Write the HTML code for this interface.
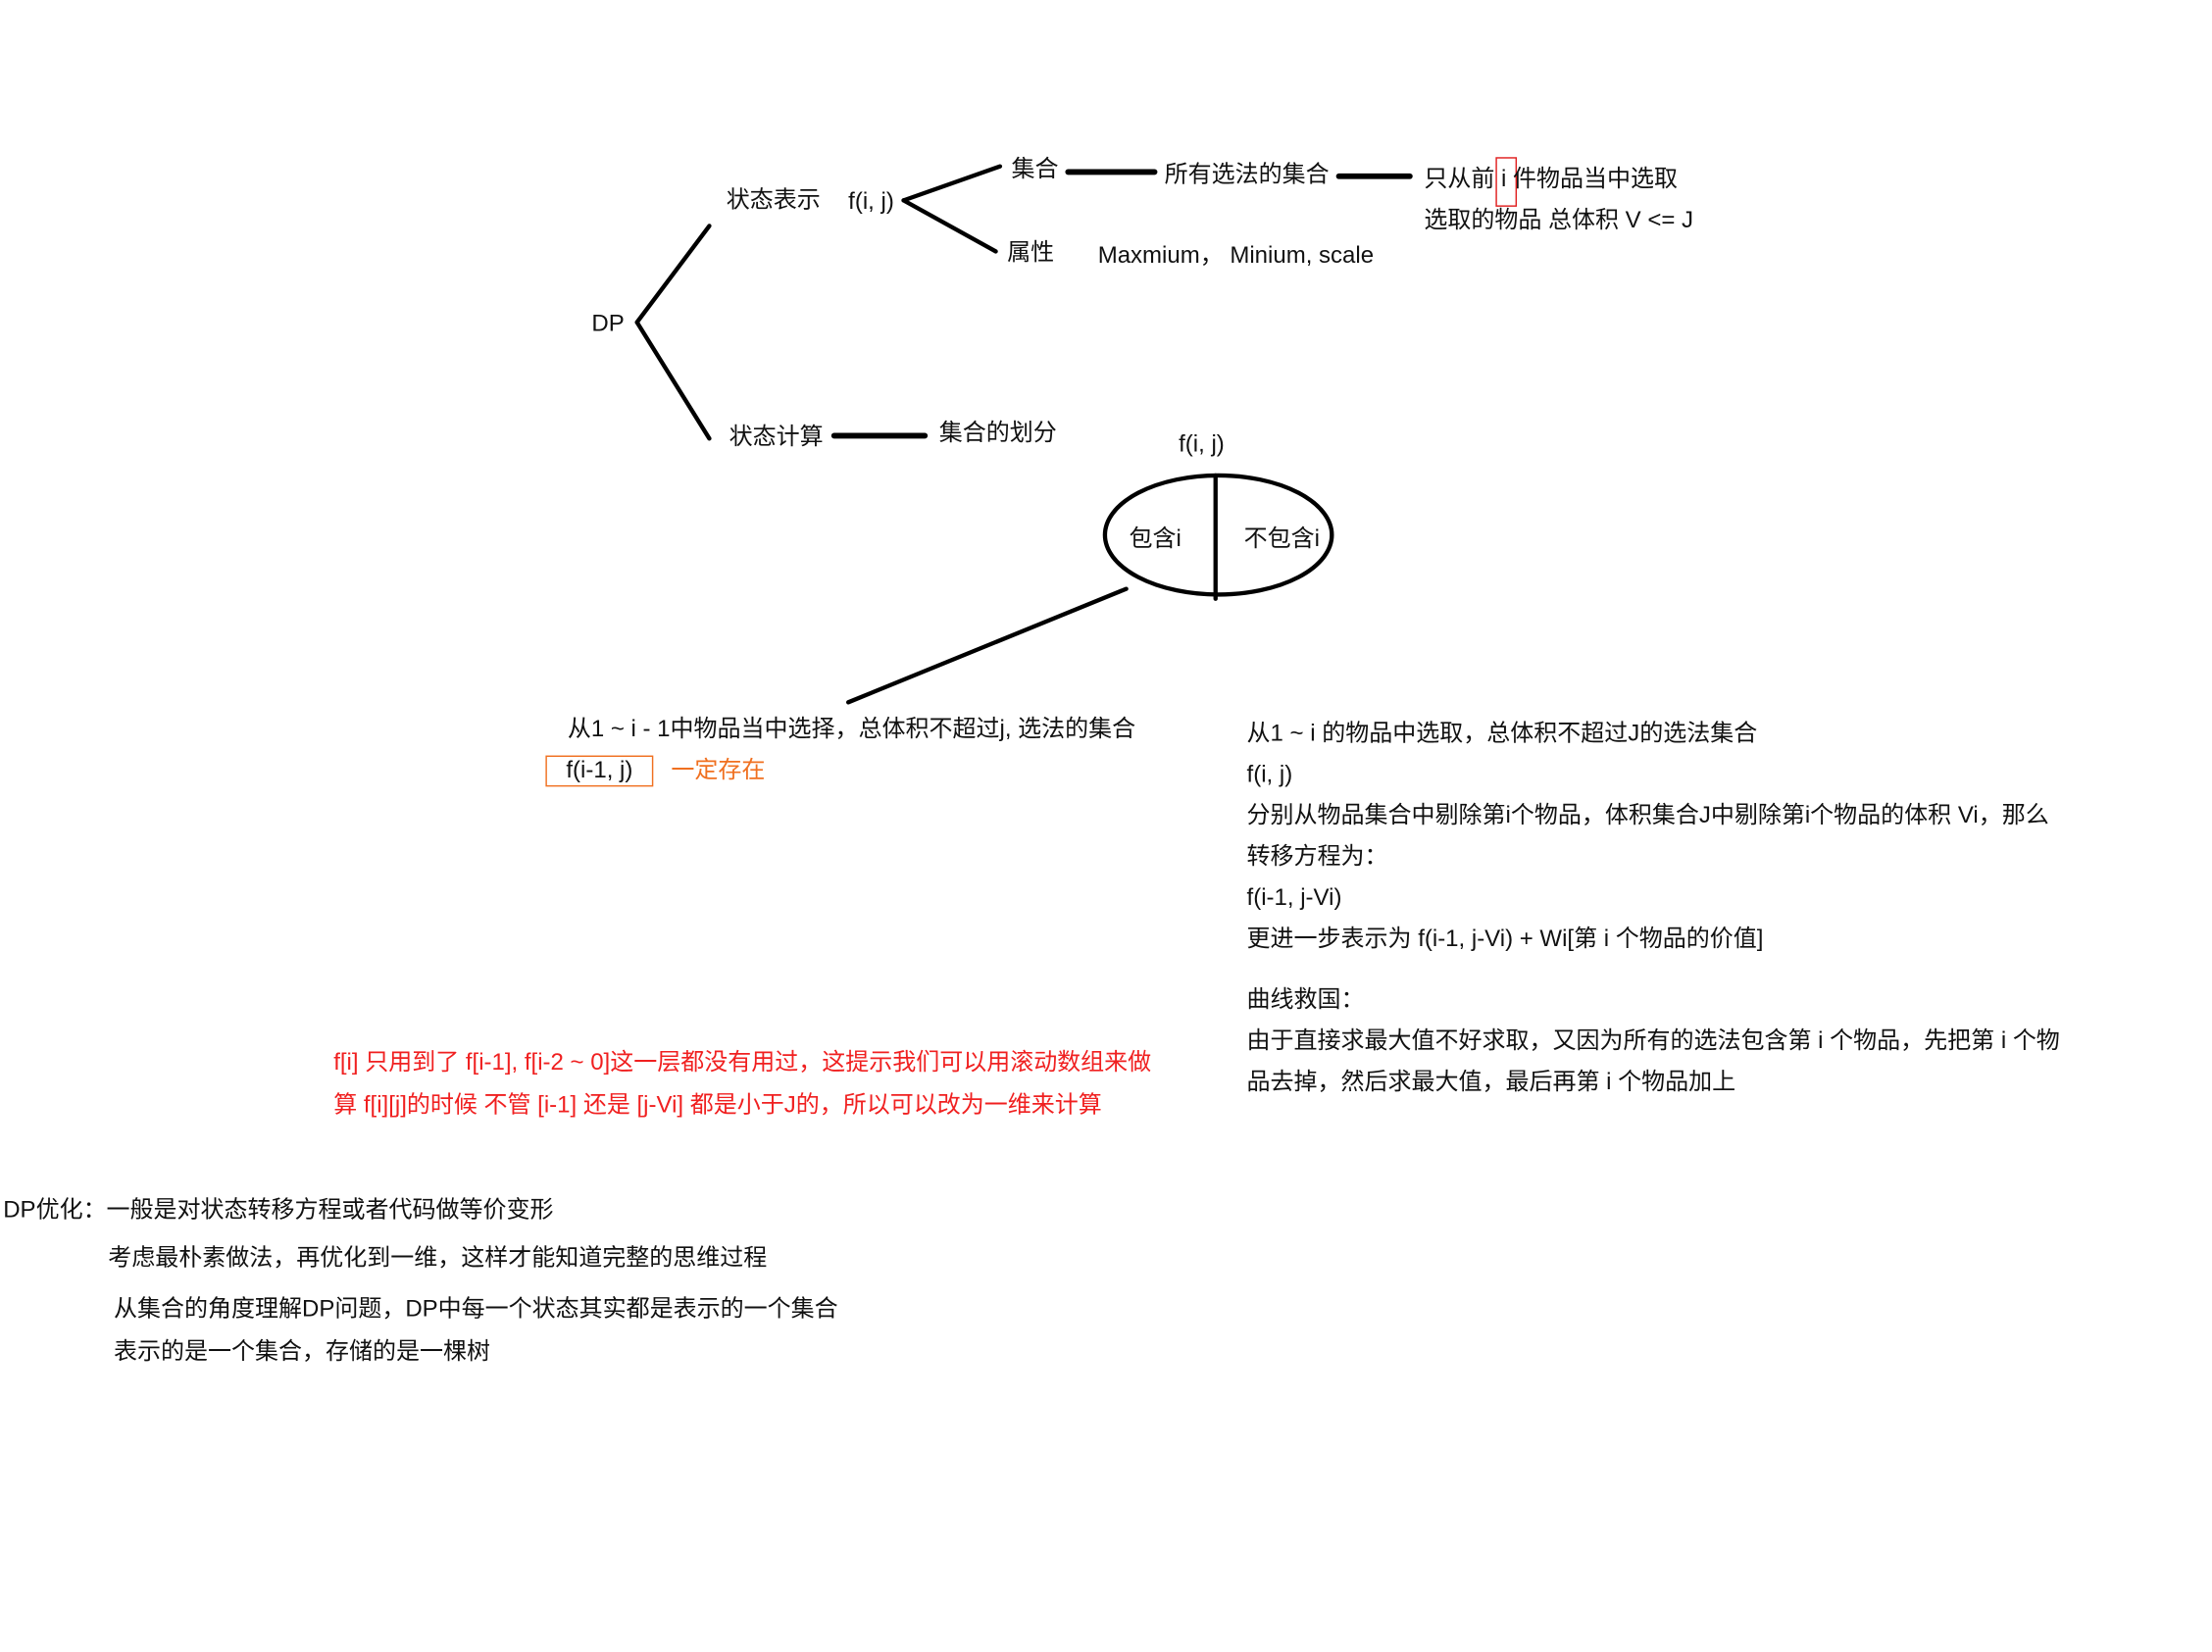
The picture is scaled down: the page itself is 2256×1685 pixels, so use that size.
<!DOCTYPE html>
<html><head><meta charset="utf-8"><style>
html,body{margin:0;padding:0;background:#fff;width:2256px;height:1685px;overflow:hidden}
#c{position:absolute;left:-4px;top:-1px;width:1560px;height:1165px;transform:scale(1.4462);transform-origin:0 0;font-family:"Liberation Sans","Noto Sans CJK SC",sans-serif;font-size:16.6px;color:#111}
.t{position:absolute;white-space:nowrap;line-height:20px;transform:translateY(-10px)}
.r{color:#f02020}.o{color:#f07020}
svg{position:absolute;left:0;top:0}
</style></head><body><div id="c">
<svg width="1560" height="1165" stroke="#000" stroke-width="3" fill="none" stroke-linecap="round">
<line x1="452" y1="228" x2="503" y2="160"/>
<line x1="452" y1="228" x2="503" y2="310"/>
<line x1="640" y1="142" x2="708" y2="118"/>
<line x1="640" y1="142" x2="705" y2="178"/>
<line x1="756" y1="122" x2="817" y2="122" stroke-width="4"/>
<line x1="947" y1="125" x2="997" y2="125" stroke-width="4"/>
<line x1="591" y1="308" x2="655" y2="308" stroke-width="4"/>
<ellipse cx="862" cy="378" rx="80" ry="42"/>
<line x1="860" y1="336" x2="860" y2="423"/>
<line x1="797" y1="416" x2="601" y2="496"/>
<rect x="1058" y="112" width="14" height="34" stroke="#e02020" stroke-width="1"/>
<rect x="388" y="534" width="75" height="21" stroke="#f07020" stroke-width="1"/>
</svg>
<div class="t" style="left:420px;top:229px">DP</div>
<div class="t" style="left:515px;top:142px">状态表示</div>
<div class="t" style="left:601px;top:143px">f(i, j)</div>
<div class="t" style="left:716px;top:120px">集合</div>
<div class="t" style="left:824px;top:124px">所有选法的集合</div>
<div class="t" style="left:1007px;top:127px">只从前 i 件物品当中选取</div>
<div class="t" style="left:1007px;top:156px">选取的物品 总体积 V &lt;= J</div>
<div class="t" style="left:713px;top:179px">属性</div>
<div class="t" style="left:777px;top:181px">Maxmium，&nbsp;Minium, scale</div>
<div class="t" style="left:517px;top:309px">状态计算</div>
<div class="t" style="left:665px;top:306px">集合的划分</div>
<div class="t" style="left:834px;top:314px">f(i, j)</div>
<div class="t" style="left:799px;top:381px">包含i</div>
<div class="t" style="left:880px;top:381px">不包含i</div>
<div class="t" style="left:403px;top:515px">从1 ~ i - 1中物品当中选择，总体积不超过j, 选法的集合</div>
<div class="t" style="left:402px;top:544px">f(i-1, j)</div>
<div class="t o" style="left:476px;top:544px">一定存在</div>
<div class="t" style="left:882px;top:518px">从1 ~ i 的物品中选取，总体积不超过J的选法集合</div>
<div class="t" style="left:882px;top:547px">f(i, j)</div>
<div class="t" style="left:882px;top:576px">分别从物品集合中剔除第i个物品，体积集合J中剔除第i个物品的体积 Vi，那么</div>
<div class="t" style="left:882px;top:605px">转移方程为：</div>
<div class="t" style="left:882px;top:634px">f(i-1, j-Vi)</div>
<div class="t" style="left:882px;top:663px">更进一步表示为 f(i-1, j-Vi) + Wi[第 i 个物品的价值]</div>
<div class="t" style="left:882px;top:706px">曲线救国：</div>
<div class="t" style="left:882px;top:735px">由于直接求最大值不好求取，又因为所有的选法包含第 i 个物品，先把第 i 个物</div>
<div class="t" style="left:882px;top:764px">品去掉，然后求最大值，最后再第 i 个物品加上</div>
<div class="t r" style="left:238px;top:750px">f[i] 只用到了 f[i-1], f[i-2 ~ 0]这一层都没有用过，这提示我们可以用滚动数组来做</div>
<div class="t r" style="left:238px;top:780px">算 f[i][j]的时候 不管 [i-1] 还是 [j-Vi] 都是小于J的，所以可以改为一维来计算</div>
<div class="t" style="left:5px;top:854px">DP优化：一般是对状态转移方程或者代码做等价变形</div>
<div class="t" style="left:79px;top:888px">考虑最朴素做法，再优化到一维，这样才能知道完整的思维过程</div>
<div class="t" style="left:83px;top:924px">从集合的角度理解DP问题，DP中每一个状态其实都是表示的一个集合</div>
<div class="t" style="left:83px;top:954px">表示的是一个集合，存储的是一棵树</div>
</div></body></html>
